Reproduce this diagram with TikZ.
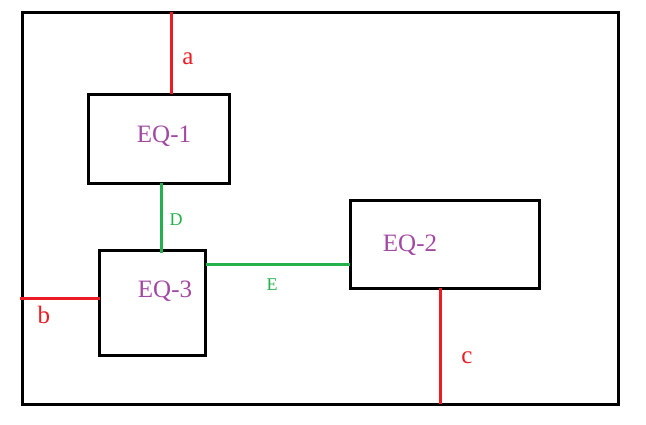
\documentclass[tikz,border=0pt]{standalone}
\usepackage{fontspec}
\setmainfont{Liberation Serif}
\definecolor{eqred}{HTML}{ED1C24}
\definecolor{eqgreen}{HTML}{22B14C}
\definecolor{eqpurple}{HTML}{A349A4}
\begin{document}
\begin{tikzpicture}[x=1pt,y=-1pt,
  box/.style={draw=black,line width=3pt,rectangle,inner sep=0pt,outer sep=0pt},
  eqtext/.style={text=eqpurple,font=\fontsize{25}{25}\selectfont,anchor=base,inner sep=0pt},
  redlbl/.style={text=eqred,font=\fontsize{25}{25}\selectfont,anchor=base,inner sep=0pt},
  greenlbl/.style={text=eqgreen,font=\fontsize{18}{18}\selectfont,anchor=base,inner sep=0pt},
  redline/.style={draw=eqred,line width=3pt},
  greenline/.style={draw=eqgreen,line width=3pt}]
\useasboundingbox (0,0) rectangle (646,424);
\node[box,minimum width=596pt,minimum height=392pt] (outer) at (320,208) {};
\node[box,minimum width=141pt,minimum height=89pt] (eq1) at (158.5,138.5) {};
\node[box,minimum width=106pt,minimum height=105pt] (eq3) at (152.5,302.5) {};
\node[box,minimum width=189pt,minimum height=88pt] (eq2) at (444.5,244) {};
\node[eqtext] (t1) at (164,142) {EQ-1};
\node[eqtext] (t3) at (165,297) {EQ-3};
\node[eqtext] (t2) at (410,251) {EQ-2};
\coordinate (atop) at (171,12);
\coordinate (bleft) at (20,298);
\coordinate (cbot) at (440,404);
\draw[redline] (atop) -- (atop |- eq1.north);
\draw[redline] (bleft) -- (bleft -| eq3.west);
\draw[redline] (cbot |- eq2.south) -- (cbot);
\coordinate (dx) at (161,0);
\draw[greenline] (dx |- eq1.south) -- (161,253);
\coordinate (ey) at (0,264);
\draw[greenline] (ey -| eq3.east) -- (ey -| eq2.west);
\node[redlbl] (la) at (188,64) {a};
\node[redlbl] (lb) at (44,323) {b};
\node[redlbl] (lc) at (467,363) {c};
\node[greenlbl] (ld) at (176,225) {D};
\node[greenlbl] (le) at (272,290) {E};
\end{tikzpicture}
\end{document}
